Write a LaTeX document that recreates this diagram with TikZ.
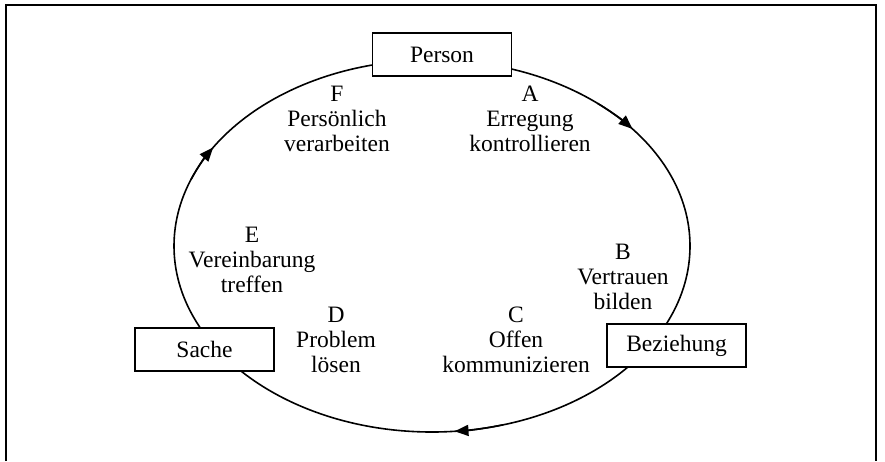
\documentclass[tikz,border=0pt]{standalone}
\usepackage{fontspec}
\setmainfont{Liberation Serif}
\usetikzlibrary{arrows.meta}

\begin{document}
\begin{tikzpicture}[
    x=1pt, y=-1pt,
    box/.style={draw, line width=1.8pt, fill=white, minimum width=139pt, minimum height=43pt, inner sep=0pt, font=\fontsize{23.5}{25}\selectfont},
    lbl/.style={align=center, anchor=base, font=\fontsize{23.5}{25}\selectfont},
    ring/.style={line width=1.6pt},
    tip/.style={ring, -{Triangle[length=14pt, width=11pt]}}
]
\useasboundingbox (0,0) rectangle (885,461);
\draw[line width=2.4pt] (6,461) -- (6,5) -- (876,5) -- (876,461);

\coordinate (mid) at (432,246);
\draw[ring] (mid) ellipse [x radius=258, y radius=186];
\foreach \a/\b in {74/85, 201/212, 310/321}
    \draw[tip] (mid) ++(\a:258 and 186) arc[start angle=\a, end angle=\b, x radius=258, y radius=186];

\node[box] (person) at (442,54.5) {Person};
\node[box] (beziehung) at (676.5,345.5) {Beziehung};
\node[box] (sache) at (204.5,349.5) {Sache};

% base anchor sits on the last line
\node[lbl] (erregung) at (530,151) {A\\Erregung\\kontrollieren};
\node[lbl] (vertrauen) at (623,309) {B\\Vertrauen\\bilden};
\node[lbl] (offen) at (516,372) {C\\Offen\\kommunizieren};
\node[lbl] (problem) at (336,372) {D\\Problem\\lösen};
\node[lbl] (vereinbarung) at (252,292) {E\\Vereinbarung\\treffen};
\node[lbl] (verarbeiten) at (337,151) {F\\Persönlich\\verarbeiten};
\end{tikzpicture}
\end{document}
